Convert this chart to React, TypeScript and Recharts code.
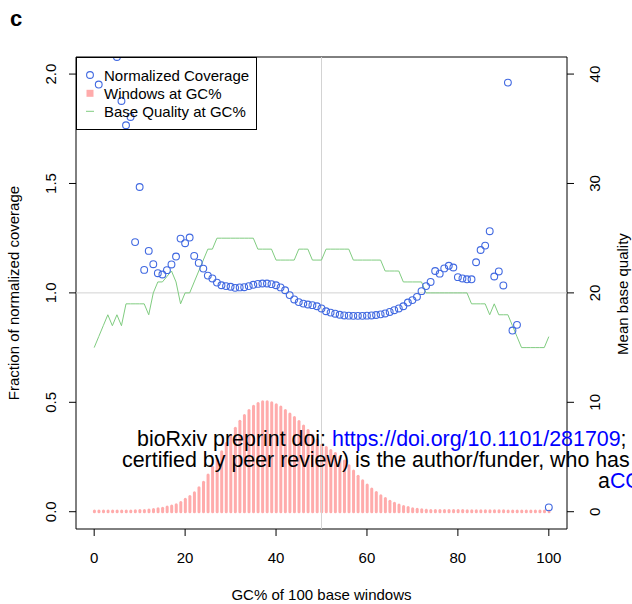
import React from 'react'
import {
  ComposedChart,
  XAxis,
  YAxis,
  Bar,
  Line,
  Scatter,
  ReferenceLine,
  ReferenceArea,
} from 'recharts'

// GC% of each 100 bp window
const gcBins = Array.from({ length: 101 }, (_, i) => i)

// normalized coverage per GC bin (null = off the top of the plot)
const normCoverage: (number | null)[] = [
  null, 1.952, null, null, null, 2.078, 1.877, 1.766, 1.804, 1.232,
  1.484, 1.105, 1.192, 1.131, 1.090, 1.084, 1.104, 1.130, 1.166, 1.248,
  1.227, 1.253, 1.169, 1.137, 1.111, 1.079, 1.066, 1.047, 1.035, 1.031,
  1.028, 1.023, 1.025, 1.026, 1.031, 1.037, 1.041, 1.043, 1.043, 1.040,
  1.035, 1.025, 1.012, 0.990, 0.970, 0.958, 0.951, 0.947, 0.944, 0.939,
  0.929, 0.916, 0.910, 0.905, 0.900, 0.897, 0.896, 0.895, 0.895, 0.895,
  0.896, 0.897, 0.899, 0.902, 0.906, 0.913, 0.921, 0.929, 0.939, 0.956,
  0.967, 0.982, 1.008, 1.031, 1.050, 1.100, 1.088, 1.112, 1.124, 1.116,
  1.072, 1.066, 1.062, 1.062, 1.140, 1.196, 1.216, 1.282, 1.075, 1.098,
  1.034, 1.961, 0.828, 0.854, null, null, null, null, null, null,
  0.020,
]

// fraction of windows at each GC%
const windowsAtGc: number[] = [
  0.003, 0.003, 0.003, 0.003, 0.003, 0.003, 0.003, 0.003, 0.003, 0.004,
  0.005, 0.006, 0.008, 0.010, 0.013, 0.016, 0.021, 0.026, 0.032, 0.042,
  0.057, 0.070, 0.087, 0.110, 0.135, 0.168, 0.203, 0.237, 0.274, 0.312,
  0.348, 0.381, 0.413, 0.440, 0.463, 0.482, 0.495, 0.503, 0.503, 0.498,
  0.489, 0.478, 0.463, 0.447, 0.430, 0.412, 0.392, 0.371, 0.350, 0.328,
  0.305, 0.293, 0.280, 0.266, 0.250, 0.232, 0.210, 0.186, 0.162, 0.141,
  0.122, 0.104, 0.088, 0.073, 0.060, 0.048, 0.039, 0.031, 0.024, 0.019,
  0.014, 0.011, 0.009, 0.007, 0.006, 0.005, 0.005, 0.005, 0.005, 0.005,
  0.005, 0.005, 0.004, 0.004, 0.004, 0.004, 0.004, 0.004, 0.004, 0.004,
  0.004, 0.003, 0.003, 0.003, 0.003, 0.003, 0.003, 0.003, 0.003, 0.003,
  0.003,
]

// mean base quality at each GC%
const baseQuality: number[] = [
  15, 16, 17, 18, 17, 18, 17, 19, 19, 19,
  19, 19, 18, 20, 21, 21, 21.5, 22, 21, 19,
  20, 20, 21, 22, 23, 24, 24, 25, 25, 25,
  25, 25, 25, 25, 25, 25, 24, 24, 24, 24,
  23, 23, 23, 23, 23, 24, 24, 24, 23, 23,
  23, 24, 24, 24, 24, 24, 24, 23, 23, 23,
  23, 23, 23, 23, 22, 22, 22, 22, 21, 21,
  21, 21, 21, 20, 20, 20, 20, 20, 20, 20,
  20, 20, 20, 19, 19, 19, 19, 18, 19, 18,
  18, 18, 17, 16, 15, 15, 15, 15, 15, 15,
  16,
]

const xTicks = [0, 20, 40, 60, 80, 100]
const covTicks = [0, 0.5, 1.0, 1.5, 2.0]
const qualTicks = [0, 10, 20, 30, 40]

const COV_DOMAIN: [number, number] = [-0.079, 2.078]
const QUAL_DOMAIN: [number, number] = [COV_DOMAIN[0] * 20, COV_DOMAIN[1] * 20]

const BLUE = '#4169e1'
const PINK = '#ffabab'
const GREEN = '#80cc80'
const GREY = '#d3d3d3'
const FONT = '"Liberation Sans", Arial, Helvetica, sans-serif'

const rows = gcBins.map((gc, i) => ({
  gc,
  coverage: normCoverage[i],
  windows: windowsAtGc[i],
  quality: baseQuality[i],
}))
const coverageRows = rows.filter(r => r.coverage != null)

// R-style rotated y tick labels
const RotatedTick = ({ x, y, payload, digits }: any) => (
  <text
    x={x}
    y={y}
    transform={`rotate(-90 ${x} ${y})`}
    textAnchor="middle"
    fontSize={15}
    fontFamily={FONT}
    fill="#000"
  >
    {Number(payload.value).toFixed(digits)}
  </text>
)

// type="h" style stick with round caps
const WindowStick = (props: any) => {
  const { x, y, width, height } = props
  if (x == null || y == null) return null
  const cx = x + width / 2
  return (
    <line
      x1={cx}
      x2={cx}
      y1={y}
      y2={y + height}
      stroke={PINK}
      strokeWidth={3}
      strokeLinecap="round"
    />
  )
}

export default function App() {
  return (
    <div
      style={{
        position: 'fixed',
        left: 0,
        top: 0,
        width: 632,
        height: 604,
        overflow: 'hidden',
        background: '#fff',
        fontFamily: FONT,
      }}
    >
      <ComposedChart
        width={632}
        height={604}
        data={rows}
        margin={{ top: 57, right: 0, bottom: 0, left: 0 }}
      >
        <XAxis
          dataKey="gc"
          type="number"
          domain={[-4, 104]}
          allowDataOverflow
          ticks={xTicks}
          height={75}
          axisLine={false}
          tickLine={{ stroke: '#000' }}
          tickSize={7}
          tickMargin={16}
          tick={{ fontSize: 15, fill: '#000', fontFamily: FONT }}
        />
        <YAxis
          yAxisId="left"
          type="number"
          domain={COV_DOMAIN}
          allowDataOverflow
          ticks={covTicks}
          width={76}
          axisLine={false}
          tickLine={{ stroke: '#000' }}
          tickSize={7}
          tickMargin={13}
          tick={<RotatedTick digits={1} />}
        />
        <YAxis
          yAxisId="right"
          orientation="right"
          type="number"
          domain={QUAL_DOMAIN}
          allowDataOverflow
          ticks={qualTicks}
          width={65}
          axisLine={false}
          tickLine={{ stroke: '#000' }}
          tickSize={7}
          tickMargin={26}
          tick={<RotatedTick digits={0} />}
        />

        <ReferenceLine yAxisId="left" y={1} stroke={GREY} strokeWidth={1} />
        <ReferenceLine yAxisId="left" x={50} stroke={GREY} strokeWidth={1} />

        <Bar
          yAxisId="left"
          dataKey="windows"
          barSize={3}
          shape={<WindowStick />}
          isAnimationActive={false}
        />
        <Line
          yAxisId="right"
          type="linear"
          dataKey="quality"
          stroke={GREEN}
          strokeWidth={1}
          dot={false}
          activeDot={false}
          isAnimationActive={false}
        />
        <Scatter
          yAxisId="left"
          data={coverageRows}
          dataKey="coverage"
          shape={(p: any) => (
            <circle cx={p.cx} cy={p.cy} r={3.4} fill="none" stroke={BLUE} strokeWidth={1.1} />
          )}
          isAnimationActive={false}
        />

        <ReferenceArea
          yAxisId="left"
          x1={-4}
          x2={104}
          y1={COV_DOMAIN[0]}
          y2={COV_DOMAIN[1]}
          fill="none"
          fillOpacity={0}
          stroke="#000"
          strokeWidth={1}
        />
      </ComposedChart>

      {/* titles, legend and page watermark */}
      <svg
        width={632}
        height={604}
        style={{ position: 'absolute', left: 0, top: 0, pointerEvents: 'none' }}
        fontFamily={FONT}
      >
        <text x={10} y={26} fontSize={22} fontWeight="bold" fill="#000">c</text>

        <text x={321.5} y={600} fontSize={15} textAnchor="middle" fill="#000">
          GC% of 100 base windows
        </text>
        <text x={19} y={293} fontSize={15} textAnchor="middle" fill="#000" transform="rotate(-90 19 293)">
          Fraction of normalized coverage
        </text>
        <text x={628} y={294} fontSize={15} textAnchor="middle" fill="#000" transform="rotate(-90 628 294)">
          Mean base quality
        </text>

        <rect x={76.5} y={57.5} width={180} height={72} fill="none" stroke="#000" strokeWidth={1} />
        <circle cx={90} cy={75} r={3.4} fill="none" stroke={BLUE} strokeWidth={1.1} />
        <rect x={86.5} y={89.8} width={7} height={7} fill={PINK} />
        <line x1={86} x2={94} y1={111.3} y2={111.3} stroke={GREEN} strokeWidth={1} />
        <text x={104} y={80.5} fontSize={15} fill="#000">Normalized Coverage</text>
        <text x={104} y={99} fontSize={15} fill="#000">Windows at GC%</text>
        <text x={104} y={117.3} fontSize={15} fill="#000">Base Quality at GC%</text>

        <g fontSize={21.4} fill="#000">
          <text x={137} y={445.5}>
            bioRxiv preprint doi: <tspan fill="#0000ff">https://doi.org/10.1101/281709</tspan>;
          </text>
          <text x={122} y={466.5}>certified by peer review) is the author/funder, who has</text>
          <text x={598} y={487.5}>
            a<tspan fill="#0000ff">CC</tspan>
          </text>
        </g>
      </svg>
    </div>
  )
}
